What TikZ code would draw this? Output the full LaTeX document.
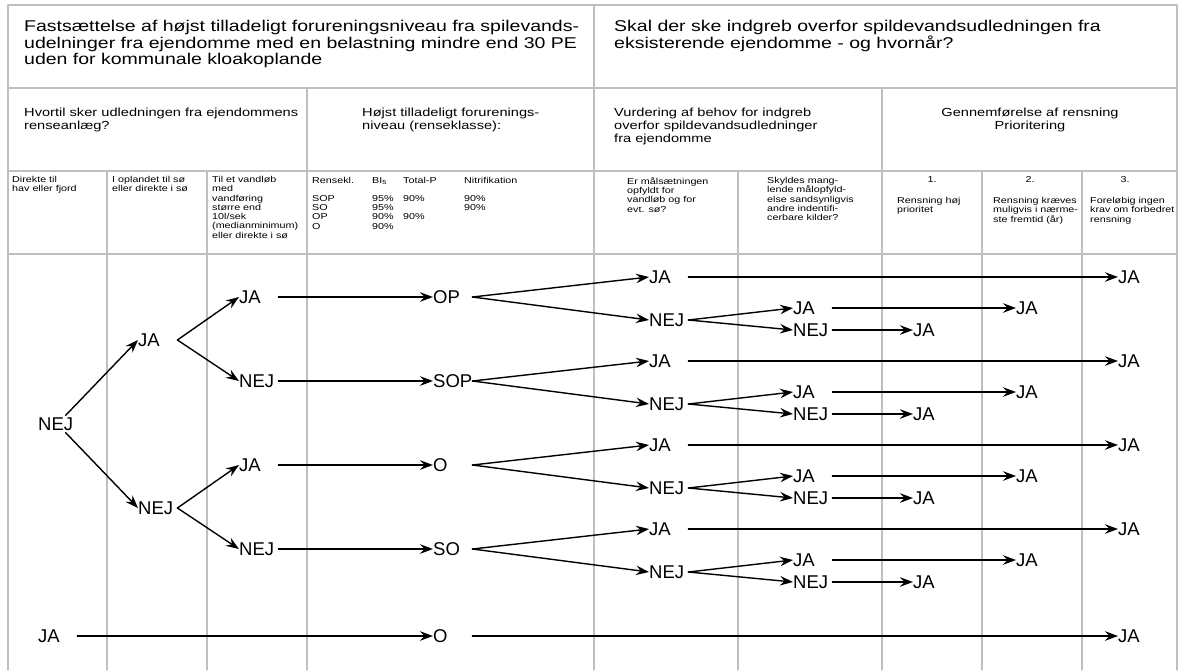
\documentclass[tikz,border=0pt]{standalone}
\usepackage{fontspec}
\setmainfont{Liberation Sans}
\newfontfamily\wide{Liberation Sans}[FakeStretch=1.25]
\usepackage{pgf,tikz}
\usetikzlibrary{arrows.meta}
\definecolor{bfbfbf}{rgb}{0.75,0.75,0.75}

\begin{document}
\begin{tikzpicture}[line cap=round,line join=round,x=1pt,y=-1pt,
		>={Stealth[length=13pt,width=9.5pt,inset=4.5pt]},
		grid/.style={color=bfbfbf,line width=1.3pt},
		arr/.style={->,line width=1.4pt},
		svar/.style={inner sep=0pt,anchor=west,text width=39pt,align=left,text height=13pt,text depth=0pt,font=\fontsize{18.5}{18.5}\selectfont},
		titel/.style={inner sep=0pt,anchor=north west,align=left,font=\wide\fontsize{15.6}{16.5}\selectfont},
		hoved/.style={inner sep=0pt,anchor=north west,align=left,font=\wide\fontsize{11.7}{13}\selectfont},
		lille/.style={inner sep=0pt,anchor=north west,align=left,font=\wide\fontsize{8.6}{9.3}\selectfont}]
			\useasboundingbox (0,0) rectangle (1182,670);
			\foreach \y in {5,88,171,254}
				\draw[grid] (8,\y) -- (1177,\y);
			\foreach \x in {8,594,1177}
				\draw[grid] (\x,5) -- (\x,670);
			\foreach \x in {307,882}
				\draw[grid] (\x,88) -- (\x,670);
			\foreach \x in {107,207,738,982,1082}
				\draw[grid] (\x,171) -- (\x,670);
			
			\node[titel] (ttlA) at (24,20) {Fastsættelse af højst tilladeligt forureningsniveau fra spilevands-\\udelninger fra ejendomme med en belastning mindre end 30 PE\\uden for kommunale kloakoplande};
			\node[titel] (ttlB) at (614,20) {Skal der ske indgreb overfor spildevandsudledningen fra\\eksisterende ejendomme - og hvornår?};
			
			\node[hoved] (hvortil) at (24,108) {Hvortil sker udledningen fra ejendommens\\renseanlæg?};
			\node[hoved] (niveau) at (362,108) {Højst tilladeligt forurenings-\\niveau (renseklasse):};
			\node[hoved] (behov) at (614,108) {Vurdering af behov for indgreb\\overfor spildevandsudledninger\\fra ejendomme};
			\node[hoved,anchor=north,align=center] (prio) at (1030,108) {Gennemførelse af rensning\\Prioritering};
			
			\node[lille] (hav) at (12,176) {Direkte til\\hav eller fjord};
			\node[lille] (soe) at (112,176) {I oplandet til sø\\eller direkte i sø};
			\node[lille] (vandl) at (212,176) {Til et vandløb\\med\\vandføring\\større end\\10l/sek\\(medianminimum)\\eller direkte i sø};
			\node[lille] (rk) at (312,177) {Rensekl.};
			\node[lille] (rkv) at (312,195) {SOP\\SO\\OP\\O};
			\node[lille] (bi) at (372,177) {BI\textsubscript{5}};
			\node[lille] (biv) at (372,195) {95\%\\95\%\\90\%\\90\%};
			\node[lille] (tp) at (403,177) {Total-P};
			\node[lille] (tpv) at (403,195) {90\%\\\mbox{}\\90\%};
			\node[lille] (ni) at (464,177) {Nitrifikation};
			\node[lille] (niv) at (464,195) {90\%\\90\%};
			\node[lille] (maal) at (627,177) {Er målsætningen\\opfyldt for\\vandløb og for\\evt. sø?};
			\node[lille] (kilder) at (767,177) {Skyldes mang-\\lende målopfyld-\\else sandsynligvis\\andre indentifi-\\cerbare kilder?};
			\node[lille,anchor=north] (nr1) at (932,176) {1.};
			\node[lille] (prio1) at (897,197) {Rensning høj\\prioritet};
			\node[lille,anchor=north] (nr2) at (1030,176) {2.};
			\node[lille] (prio2) at (993,197) {Rensning kræves\\muligvis i nærme-\\ste fremtid (år)};
			\node[lille,anchor=north] (nr3) at (1125,176) {3.};
			\node[lille] (prio3) at (1090,197) {Foreløbig ingen\\krav om forbedret\\rensning};
			
			\node[svar] (nejA) at (38,424) {NEJ};
			\node[svar] (jaA) at (38,636) {JA};
			\node[svar] (jaB) at (138,340) {JA};
			\node[svar] (nejB) at (138,508) {NEJ};
			\node[svar] (jaC) at (239,297) {JA};
			\node[svar] (nejC) at (239,381) {NEJ};
			\node[svar] (jaCC) at (239,465) {JA};
			\node[svar] (nejCC) at (239,549) {NEJ};
			\node[svar] (op) at (433,297) {OP};
			\node[svar] (sop) at (433,381) {SOP};
			\node[svar] (o) at (433,465) {O};
			\node[svar] (so) at (433,549) {SO};
			\node[svar] (oo) at (433,636) {O};
			\node[svar] (jaI) at (1118,636) {JA};
			
			\draw[arr] ([shift={(8pt,2pt)}]nejA.north) -- (jaB.west);
			\draw[arr] ([shift={(8pt,-2pt)}]nejA.south) -- (nejB.west);
			\draw[arr] (jaB.east) -- (jaC.west);
			\draw[arr] (jaB.east) -- (nejC.west);
			\draw[arr] (nejB.east) -- (jaCC.west);
			\draw[arr] (nejB.east) -- (nejCC.west);
			\draw[arr] (jaC.east) -- (op.west);
			\draw[arr] (nejC.east) -- (sop.west);
			\draw[arr] (jaCC.east) -- (o.west);
			\draw[arr] (nejCC.east) -- (so.west);
			\draw[arr] (jaA.east) -- (oo.west);
			\draw[arr] (oo.east) -- (jaI.west);
			
			\foreach \r/\y in {op/297,sop/381,o/465,so/549}{
				\node[svar] (jaE\r) at (649,\y-20) {JA};
				\node[svar] (nejE\r) at (649,\y+23) {NEJ};
				\node[svar] (jaF\r) at (793,\y+11) {JA};
				\node[svar] (nejF\r) at (793,\y+33) {NEJ};
				\node[svar] (jaG\r) at (913,\y+33) {JA};
				\node[svar] (jaH\r) at (1016,\y+11) {JA};
				\node[svar] (jaI\r) at (1118,\y-20) {JA};
				\draw[arr] (\r.east) -- (jaE\r.west);
				\draw[arr] (\r.east) -- (nejE\r.west);
				\draw[arr] (jaE\r.east) -- (jaI\r.west);
				\draw[arr] (nejE\r.east) -- (jaF\r.west);
				\draw[arr] (nejE\r.east) -- (nejF\r.west);
				\draw[arr] (jaF\r.east) -- (jaH\r.west);
				\draw[arr] (nejF\r.east) -- (jaG\r.west);
			}
		\end{tikzpicture}
\end{document}
